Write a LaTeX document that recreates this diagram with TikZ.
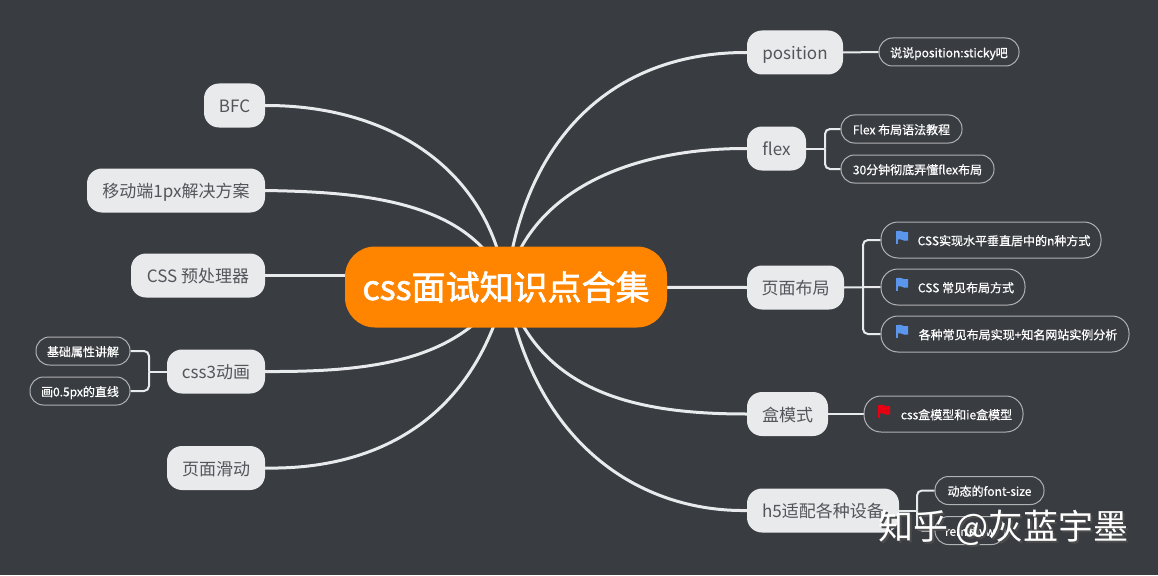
\documentclass[tikz,border=0pt]{standalone}
\usepackage{fontspec}
\setmainfont{Noto Sans CJK SC}
\newfontfamily\leaffont[FakeBold=0.7]{Noto Sans CJK SC}
\newfontfamily\rootfont[FakeBold=1.8]{Noto Sans CJK SC}
\usetikzlibrary{backgrounds}
\definecolor{pagebg}{RGB}{57,60,65}
\definecolor{rootfill}{RGB}{255,132,0}
\definecolor{topicfill}{RGB}{233,234,236}
\definecolor{topictext}{RGB}{82,85,90}
\definecolor{linecol}{RGB}{232,234,236}
\definecolor{leafline}{RGB}{176,178,180}
\definecolor{flagblue}{RGB}{90,150,235}
\definecolor{flagred}{RGB}{230,0,18}
\tikzset{
  rootnode/.style={fill=rootfill, text=white, rounded corners=30pt, inner sep=0pt,
              minimum width=322pt, minimum height=81pt, font=\fontsize{34}{38}\rootfont},
  topic/.style={fill=topicfill, text=topictext, rounded corners=15pt, inner sep=0pt,
              text height=16pt, text depth=2pt,
              minimum height=44pt, font=\fontsize{17}{20}\selectfont},
  leaf/.style={draw=leafline, line width=1pt, text=white, rounded corners=13.5pt, inner sep=0pt,
              text height=12pt, text depth=1.4pt,
              minimum height=28pt, font=\fontsize{12}{14}\leaffont},
  bigleaf/.style={leaf, rounded corners=17pt, minimum height=36pt},
  branch/.style={linecol, line width=3pt},
  twig/.style={linecol, line width=2pt, rounded corners=5pt},
  flagicon/.pic={
    \fill[pic actions] (0,0) rectangle (2,13);
    \fill[pic actions] (2,0) .. controls (5,-1.5) and (7,2.5) .. (12,1) -- (12,9.5)
      .. controls (7,11) and (5,7) .. (2,8.5) -- cycle;
  },
}
\begin{document}
\begin{tikzpicture}[x=1pt,y=-1pt]
    \useasboundingbox (0,0) rectangle (1158,575);
    \node[rootnode] (root) at (506,287) {css面试知识点合集};
    % left side
    \node[topic, minimum width=61pt] (bfc) at (234.5,105.5) {BFC};
    \node[topic, minimum width=178pt] (onepx) at (176,190.5) {移动端1px解决方案};
    \node[topic, minimum width=134pt] (precss) at (198,275.5) {CSS 预处理器};
    \node[topic, minimum width=98pt] (anim) at (216,371.5) {css3动画};
    \node[topic, minimum width=98pt] (scroll) at (216,468) {页面滑动};
    \node[leaf, minimum width=94pt] (animA) at (83,351) {基础属性讲解};
    \node[leaf, minimum width=100pt] (animB) at (80,391) {画0.5px的直线};
    % right side
    \node[topic, minimum width=96pt] (pos) at (795,52.5) {position};
    \node[topic, minimum width=59pt] (flex) at (776.5,148.5) {flex};
    \node[topic, minimum width=97pt] (layout) at (795.5,287.5) {页面布局};
    \node[topic, minimum width=81pt] (boxm) at (787.5,414) {盒模式};
    \node[topic, minimum width=152pt] (hfive) at (823,510.5) {h5适配各种设备};
    \node[leaf, minimum width=140pt] (posA) at (949,52) {说说position:sticky吧};
    \node[leaf, minimum width=121pt] (flexA) at (901.5,129) {Flex 布局语法教程};
    \node[leaf, minimum width=153pt] (flexB) at (917.5,169) {30分钟彻底弄懂flex布局};
    \node[bigleaf, minimum width=220pt] (layA) at (991,240) {\hspace*{26pt}CSS实现水平垂直居中的n种方式};
    \node[bigleaf, minimum width=144pt] (layB) at (953,287) {\hspace*{26pt}CSS 常见布局方式};
    \node[bigleaf, minimum width=248pt] (layC) at (1005,334) {\hspace*{26pt}各种常见布局实现+知名网站实例分析};
    \node[bigleaf, minimum width=159pt] (boxA) at (943.5,414) {\hspace*{26pt}css盒模型和ie盒模型};
    \node[leaf, minimum width=109pt] (hfiveA) at (989.5,490.5) {动态的font-size};
    \node[leaf, minimum width=70pt] (hfiveB) at (970,530.5) {rem和vw};
    \pic[flagblue] at (896,231) {flagicon};
    \pic[flagblue] at (896,278) {flagicon};
    \pic[flagblue] at (896,325) {flagicon};
    \pic[flagred] at (878,405) {flagicon};
    \coordinate (flexj) at (825,148.5);
    \coordinate (layj) at (863,287.5);
    \coordinate (hfivej) at (917,510.5);
    \coordinate (animj) at (149,371.5);
    \begin{scope}[on background layer]
      \fill[pagebg] (0,0) rectangle (1158,575);
      \draw[branch] (bfc.east) .. controls (390,105) and (490,170) .. (root.center);
      \draw[branch] (onepx.east) .. controls (350,192) and (475,197) .. (root.center);
      \draw[branch] (precss.east) -- (precss.east -| root.west);
      \draw[branch] (anim.east) .. controls (370,372) and (460,362) .. (root.center);
      \draw[branch] (scroll.east) .. controls (370,470) and (472,425) .. (root.center);
      \draw[branch] (pos.west) .. controls (620,52) and (525,130) .. (root.center);
      \draw[branch] (flex.west) .. controls (640,148) and (530,185) .. (root.center);
      \draw[branch] (layout.west) -- (root.center);
      \draw[branch] (boxm.west) .. controls (640,414) and (540,395) .. (root.center);
      \draw[branch] (hfive.west) .. controls (640,512) and (535,445) .. (root.center);
      \draw[twig] (pos.east) -- (posA.west);
      \draw[twig] (boxm.east) -- (boxA.west);
      \draw[twig] (flex.east) -- (flexj);
      \draw[twig] (flexj) |- (flexA.west);
      \draw[twig] (flexj) |- (flexB.west);
      \draw[twig] (layout.east) -- (layB.west);
      \draw[twig] (layj) |- (layA.west);
      \draw[twig] (layj) |- (layC.west);
      \draw[twig] (hfive.east) -- (hfivej);
      \draw[twig] (hfivej) |- (hfiveA.west);
      \draw[twig] (hfivej) |- (hfiveB.west);
      \draw[twig] (anim.west) -- (animj);
      \draw[twig] (animj) |- (animA.east);
      \draw[twig] (animj) |- (animB.east);
    \end{scope}
    \node[text=black!70, font=\fontsize{35}{40}\selectfont] (zhihushadow) at (1005.5,530) {知乎 @灰蓝宇墨};
    \node[text=white, font=\fontsize{35}{40}\selectfont] (zhihu) at (1003.5,528) {知乎 @灰蓝宇墨};
  \end{tikzpicture}
\end{document}
